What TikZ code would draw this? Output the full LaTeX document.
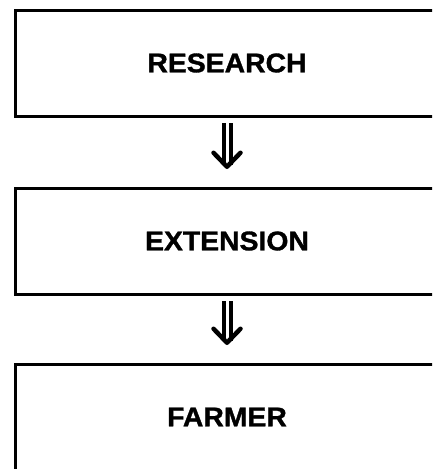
\documentclass[tikz,border=0pt]{standalone}
\usepackage{fontspec}
\newfontfamily\boxfont{Liberation Sans}[FakeStretch=1.05, BoldFeatures={FakeBold=1.2}]
\usetikzlibrary{arrows.meta}

\begin{document}
\begin{tikzpicture}[
		x=1pt, y=-1pt,
		box/.style={rectangle, draw=black, line width=3pt, outer sep=0pt, minimum width=424pt, minimum height=106pt, font=\boxfont\bfseries\fontsize{27}{30}\selectfont},
		arrow/.style={line width=4pt, double, double distance=3pt, -{Straight Barb[length=14pt, width=27pt, line width=4.5pt, round]}, shorten <=7pt, shorten >=19pt}
		]
		\useasboundingbox (0,0) rectangle (432,469);
		\clip (0,0) rectangle (432,469);
		
		\node (research) at (227, 63) [box] {RESEARCH};
		\node (extension) at (227, 241) [box] {EXTENSION};
		\node (farmer) at (227, 417) [box] {FARMER};
		
		\draw [arrow] (research) -- (extension);
		\draw [arrow] (extension) -- (farmer);
	\end{tikzpicture}
\end{document}
